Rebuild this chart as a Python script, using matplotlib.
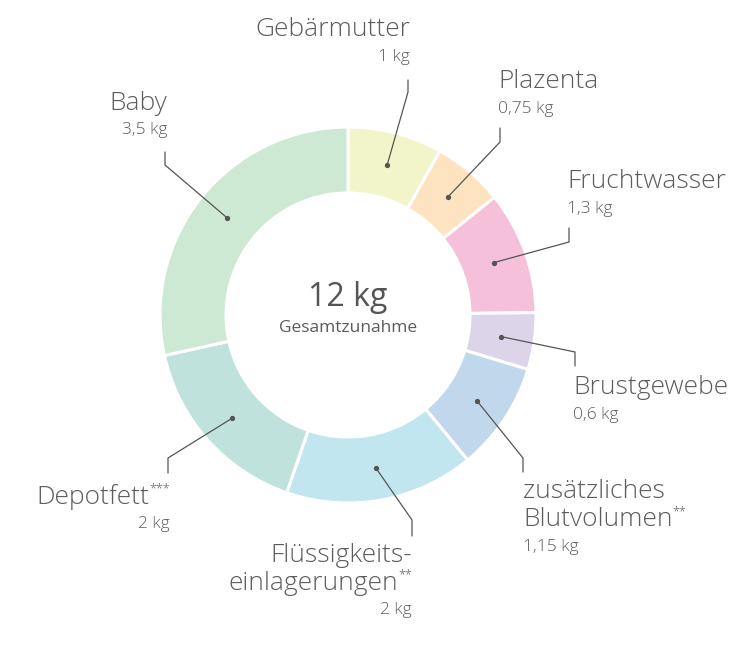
import matplotlib
matplotlib.use("Agg")
import matplotlib.pyplot as plt
import numpy as np

# data, clockwise from the top
labels = ["Gebärmutter", "Plazenta", "Fruchtwasser", "Brustgewebe",
          "zusätzliches\nBlutvolumen", "Flüssigkeits-\neinlagerungen",
          "Depotfett", "Baby"]
footnotes = ["", "", "", "", "**", "**", "***", ""]
values = [1.0, 0.75, 1.3, 0.6, 1.15, 2.0, 2.0, 3.5]
value_text = ["1 kg", "0,75 kg", "1,3 kg", "0,6 kg", "1,15 kg", "2 kg", "2 kg", "3,5 kg"]
colors = ["#f1f5c9", "#fde3bf", "#f4c0da", "#dcd5e9",
          "#c1d8ec", "#c2e6ef", "#bfe3dc", "#cde8d3"]

total_text = "12 kg"
total_sub = "Gesamtzunahme"

plt.rcParams["font.family"] = ["Open Sans", "DejaVu Sans"]

W, H = 750, 650
fig = plt.figure(figsize=(7.5, 6.5), dpi=100)
ax = fig.add_axes([0, 0, 1, 1])

cx, cy = 348, H - 315
R = 188
ring = 66

wedges, _ = ax.pie(values, colors=colors, startangle=90, counterclock=False,
                   radius=R, center=(cx, cy), frame=True,
                   wedgeprops=dict(width=ring, edgecolor="white", linewidth=2.2))
ax.set_xlim(0, W)
ax.set_ylim(0, H)
ax.set_aspect("equal")
ax.axis("off")

renderer = fig.canvas.get_renderer()

def width_px(t):
    bb = t.get_window_extent(renderer=renderer)
    return bb.width

# leader layout: elbow point, end of vertical stub, label anchor, alignment
# (pixel coords from top-left)
layout = [
    ((408, 92), (408, 80), (410, 30), "right"),
    ((500, 142), (500, 128), (498, 82), "left"),
    ((569, 242), (569, 228), (567, 182), "left"),
    ((575, 352), (575, 366), (573, 388), "left"),
    ((523, 458), (523, 472), (523, 492), "left"),
    ((412, 520), (412, 536), (412, 555), "right"),
    ((168, 458), (168, 473), (170, 497), "right"),
    ((165, 165), (165, 152), (167, 103), "right"),
]

line_c = "#555555"
text_c = "#5c5c5c"
lab_fs = 19
val_fs = 12.5
step = 28
for w, lab, fn, vt, (elb, stub, anc, ha) in zip(wedges, labels, footnotes, value_text, layout):
    mid = np.deg2rad((w.theta1 + w.theta2) / 2)
    rm = R - ring / 2
    dx, dy = cx + rm * np.cos(mid), cy + rm * np.sin(mid)
    ex, ey = elb[0], H - elb[1]
    sx, sy = stub[0], H - stub[1]
    ax.plot([dx, ex, sx], [dy, ey, sy], color=line_c, lw=0.9, solid_capstyle="round")
    ax.plot(dx, dy, "o", ms=2.8, color=line_c)

    lines = lab.split("\n")
    for i, ln in enumerate(lines):
        y = H - anc[1] - step * i
        last = i == len(lines) - 1
        if last and fn:
            if ha == "right":
                st = ax.text(anc[0], y + 8, fn, ha="right", va="center",
                             fontsize=9, color=text_c, fontweight="light")
                ax.text(anc[0] - width_px(st), y, ln, ha="right", va="center",
                        fontsize=lab_fs, color=text_c, fontweight="light")
            else:
                mt = ax.text(anc[0], y, ln, ha="left", va="center",
                             fontsize=lab_fs, color=text_c, fontweight="light")
                ax.text(anc[0] + width_px(mt), y + 8, fn, ha="left", va="center",
                        fontsize=9, color=text_c, fontweight="light")
        else:
            ax.text(anc[0], y, ln, ha=ha, va="center",
                    fontsize=lab_fs, color=text_c, fontweight="light")
    ax.text(anc[0], H - anc[1] - step * len(lines) + 1, vt, ha=ha, va="center",
            fontsize=val_fs, color=text_c, fontweight="light")

ax.text(cx, H - 298, total_text, ha="center", va="center", fontsize=23,
        color="#555555")
ax.text(cx, H - 328, total_sub, ha="center", va="center", fontsize=12.5,
        color="#5c5c5c")

fig.savefig("out.png", dpi=100)
